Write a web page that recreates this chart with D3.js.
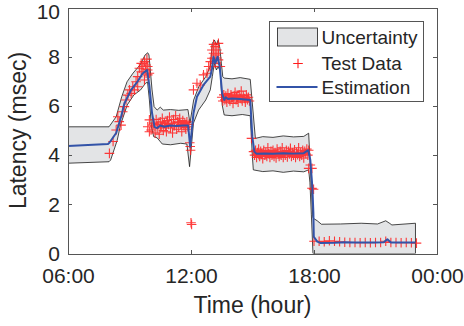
<!DOCTYPE html>
<html>
<head>
  <meta charset="utf-8" />
  <script src="https://d3js.org/d3.v7.min.js"></script>
  <style>
    * { margin: 0; padding: 0; }
    body { background: #fff; }
    svg { display: block; font-family: "Liberation Sans", Arial, sans-serif; }
    .axis text { fill: #262626; font-size: 21px; }
    .axis path, .axis line { stroke: #555; stroke-width: 1px; shape-rendering: crispEdges; }
  </style>
</head>
<body>
  <svg width="464" height="326"></svg>

  <script>
    // ---- data (hours, latency msec) ----
    const xTicks = [6, 12, 18, 24];
    const xTickLabels = ["06:00", "12:00", "18:00", "00:00"];
    const yTicks = [0, 2, 4, 6, 8, 10];

    // blue estimation curve
    const estimation = [
      [6.0, 4.37], [7.95, 4.45], [8.02, 4.5], [8.35, 4.9], [8.59, 5.56], [8.75, 6.1],
      [9.08, 6.65], [9.4, 7.0], [9.65, 7.33], [9.86, 7.46], [9.97, 6.8], [10.1, 5.7],
      [10.22, 5.15], [10.35, 5.1], [10.5, 5.2], [10.7, 5.15], [11.0, 5.2], [11.3, 5.18],
      [11.6, 5.2], [11.86, 5.2], [11.96, 4.34], [12.12, 5.7], [12.29, 6.37], [12.61, 6.85],
      [12.94, 7.19], [13.02, 7.5], [13.1, 8.0], [13.18, 7.73], [13.3, 8.0], [13.4, 7.6],
      [13.52, 6.5], [13.62, 6.24], [13.7, 6.35], [13.8, 6.28], [14.0, 6.3], [14.4, 6.28],
      [14.89, 6.24], [14.99, 4.75], [15.09, 4.14], [15.2, 4.05], [15.6, 4.07], [16.0, 4.05],
      [16.5, 4.08], [17.0, 4.06], [17.5, 4.08], [17.72, 4.2], [17.82, 3.8], [17.92, 2.7],
      [17.97, 1.65], [17.99, 0.68], [18.16, 0.48], [18.31, 0.43], [19.0, 0.44], [19.5, 0.46],
      [20.0, 0.45], [21.0, 0.45], [21.4, 0.46], [21.58, 0.58], [21.75, 0.45], [22.95, 0.45]
    ];

    // uncertainty band, upper edge
    const upperBound = [
      [6.0, 5.15], [8.0, 5.15], [8.35, 5.56], [8.62, 6.37], [8.88, 6.98], [9.17, 7.33],
      [9.51, 7.66], [9.76, 8.07], [9.89, 8.16], [9.95, 8.07], [10.0, 7.6], [10.1, 6.65],
      [10.2, 5.97], [10.35, 5.83], [10.5, 5.95], [10.65, 5.83], [11.0, 5.85], [11.4, 5.82],
      [11.85, 5.85], [11.95, 5.3], [12.13, 6.24], [12.38, 6.78], [12.72, 7.19], [12.94, 7.6],
      [13.04, 8.54], [13.14, 8.68], [13.24, 8.48], [13.33, 8.68], [13.41, 8.34], [13.48, 7.74],
      [13.55, 7.19], [13.62, 7.13], [14.0, 7.1], [14.4, 7.15], [14.89, 7.08], [15.14, 4.68],
      [15.5, 4.75], [16.0, 4.72], [16.5, 4.78], [17.0, 4.74], [17.5, 4.76], [17.74, 4.89],
      [17.8, 3.9], [17.87, 2.7], [17.94, 1.5], [17.97, 1.43], [18.16, 1.33], [18.36, 1.19],
      [19.3, 1.2], [20.3, 1.23], [21.1, 1.2], [21.5, 1.33], [21.7, 1.22], [21.8, 1.16],
      [22.95, 1.23]
    ];

    // uncertainty band, lower edge
    const lowerBound = [
      [6.0, 3.67], [8.0, 3.73], [8.08, 3.8], [8.4, 4.6], [8.56, 5.22], [8.89, 6.04],
      [9.21, 6.44], [9.54, 6.65], [9.78, 6.92], [9.88, 6.97], [9.97, 6.24], [10.07, 5.15],
      [10.18, 4.75], [10.35, 4.7], [10.6, 4.45], [11.0, 4.42], [11.5, 4.48], [11.8, 4.45],
      [11.93, 3.53], [12.12, 5.3], [12.37, 5.83], [12.72, 6.24], [12.94, 6.65], [13.04, 7.19],
      [13.14, 7.74], [13.24, 7.46], [13.33, 7.6], [13.43, 7.39], [13.52, 6.04], [13.62, 5.63],
      [14.0, 5.6], [14.5, 5.65], [14.89, 5.6], [14.99, 4.0], [15.04, 3.4], [15.5, 3.33],
      [16.0, 3.36], [16.5, 3.3], [17.0, 3.35], [17.5, 3.32], [17.74, 3.4], [17.8, 2.9],
      [17.87, 1.6], [17.95, 0], [22.95, 0]
    ];

    // red test measurements
    const testRise1 = [
      [8.02, 4.07], [8.2, 4.55], [8.35, 5.02], [8.43, 5.56], [8.5, 5.36], [8.59, 5.22],
      [8.67, 5.76], [8.75, 5.97], [8.83, 6.24], [8.92, 6.44], [9.0, 6.65], [9.08, 6.51],
      [9.16, 6.78], [9.24, 6.65], [9.32, 6.98], [9.4, 6.78], [9.4, 7.19], [9.48, 7.53],
      [9.57, 7.73], [9.57, 7.39], [9.65, 7.6], [9.73, 7.8], [9.73, 7.05], [9.81, 7.66],
      [9.81, 7.33], [9.89, 7.6], [9.89, 7.46], [9.89, 7.26], [9.97, 7.33], [9.85, 7.9],
      [9.78, 7.5], [9.97, 5.43], [9.89, 5.15], [10.05, 5.02], [10.14, 5.22], [9.97, 4.95]
    ];
    const testMorning = [
      [10.2, 5.3], [10.25, 4.9], [10.3, 5.45], [10.35, 5.1], [10.4, 5.25], [10.45, 4.85],
      [10.5, 5.35], [10.55, 5.15], [10.6, 5.5], [10.65, 5.0], [10.7, 5.3], [10.75, 5.2],
      [10.8, 4.95], [10.85, 5.4], [10.9, 5.25], [10.95, 5.55], [11.0, 5.1], [11.05, 5.3],
      [11.1, 4.9], [11.15, 5.45], [11.2, 5.2], [11.25, 5.6], [11.3, 5.05], [11.35, 5.35],
      [11.4, 5.15], [11.45, 5.5], [11.5, 5.25], [11.55, 4.95], [11.6, 5.4], [11.65, 5.2],
      [11.7, 5.3], [11.75, 5.05], [11.8, 5.35], [11.85, 5.15], [11.9, 5.25], [10.52, 5.1],
      [10.82, 5.28], [11.12, 5.18], [11.42, 5.32], [11.72, 5.12],
      [11.96, 4.35], [11.98, 4.2], [11.94, 4.5], [12.0, 1.25], [12.03, 1.18]
    ];
    const testRise2 = [
      [12.12, 6.65], [12.29, 6.92], [12.45, 6.85], [12.61, 7.26], [12.78, 7.33], [12.86, 7.6],
      [12.94, 7.8], [12.94, 7.6], [13.02, 8.27], [13.02, 7.94], [13.1, 8.14], [13.18, 8.41],
      [13.18, 8.07], [13.18, 7.73], [13.26, 8.27], [13.34, 8.14], [13.34, 7.87], [13.34, 8.54],
      [13.43, 7.6], [13.1, 8.5], [13.26, 7.95]
    ];
    const testMidday = [
      [13.5, 6.35], [13.55, 6.2], [13.6, 6.45], [13.65, 6.25], [13.7, 6.4], [13.75, 6.15],
      [13.8, 6.5], [13.85, 6.3], [13.9, 6.2], [13.95, 6.45], [14.0, 6.35], [14.05, 6.1],
      [14.1, 6.4], [14.15, 6.55], [14.2, 6.25], [14.25, 6.35], [14.3, 6.15], [14.35, 6.45],
      [14.4, 6.3], [14.45, 6.6], [14.5, 6.2], [14.55, 6.4], [14.6, 6.3], [14.65, 6.15],
      [14.7, 6.45], [14.75, 6.25], [14.8, 6.35], [14.85, 6.2], [13.72, 6.28], [13.98, 6.32],
      [14.22, 6.38], [14.48, 6.28], [14.72, 6.32], [14.95, 4.68], [15.05, 4.14]
    ];
    const testAfternoon = [
      [15.1, 4.0], [15.15, 4.2], [15.2, 3.9], [15.25, 4.1], [15.3, 4.25], [15.35, 3.95],
      [15.4, 4.15], [15.45, 4.05], [15.5, 3.85], [15.55, 4.2], [15.6, 4.0], [15.65, 4.1],
      [15.7, 3.95], [15.75, 4.3], [15.8, 4.05], [15.85, 3.9], [15.9, 4.15], [15.95, 4.0],
      [16.0, 4.2], [16.05, 3.95], [16.1, 4.1], [16.15, 3.88], [16.2, 4.25], [16.25, 4.05],
      [16.3, 3.95], [16.35, 4.15], [16.4, 4.0], [16.45, 4.3], [16.5, 3.9], [16.55, 4.1],
      [16.6, 4.0], [16.65, 4.2], [16.7, 3.92], [16.75, 4.15], [16.8, 4.05], [16.85, 4.28],
      [16.9, 3.95], [16.95, 4.1], [17.0, 4.0], [17.05, 4.22], [17.1, 3.9], [17.15, 4.12],
      [17.2, 4.02], [17.25, 4.3], [17.3, 3.95], [17.35, 4.1], [17.4, 4.0], [17.45, 4.2],
      [17.5, 3.88], [17.55, 4.15], [17.6, 4.05], [17.65, 4.25], [17.7, 4.0],
      [17.74, 4.2], [17.82, 3.6], [17.9, 3.46], [17.74, 3.46], [17.9, 2.65], [17.98, 2.61]
    ];
    const testEvening = [
      [18.0, 0.5], [18.25, 0.5], [18.5, 0.48], [18.75, 0.52], [19.0, 0.5], [19.25, 0.48],
      [19.5, 0.46], [19.75, 0.45], [20.0, 0.45], [20.25, 0.44], [20.5, 0.45], [20.75, 0.44],
      [21.0, 0.45], [21.25, 0.45], [21.5, 0.5], [21.75, 0.45], [22.0, 0.45], [22.25, 0.44],
      [22.5, 0.45], [22.75, 0.44], [23.0, 0.42]
    ];
    const testData = [].concat(testRise1, testMorning, testRise2, testMidday, testAfternoon, testEvening);

    const legendLabels = ["Uncertainty", "Test Data", "Estimation"];

    // ---- layout ----
    const svg = d3.select("svg");
    const plotLeft = 68, plotRight = 437, plotTop = 7.5, plotBottom = 253.5;

    const x = d3.scaleLinear().domain([6, 24]).range([plotLeft, plotRight]);
    const y = d3.scaleLinear().domain([0, 10]).range([plotBottom, plotTop]);

    svg.append("clipPath").attr("id", "plotclip")
      .append("rect").attr("x", plotLeft).attr("y", plotTop)
      .attr("width", plotRight - plotLeft).attr("height", plotBottom - plotTop);

    const plot = svg.append("g").attr("clip-path", "url(#plotclip)");

    // band polygon: upper edge forward, lower edge backward
    const bandPts = upperBound.concat(lowerBound.slice().reverse());
    plot.append("path")
      .datum(bandPts)
      .attr("d", d3.line().x(d => x(d[0])).y(d => y(d[1])).curve(d3.curveLinearClosed))
      .attr("fill", "#e3e4e6")
      .attr("stroke", "#1a1a1a")
      .attr("stroke-width", 0.8);

    // red plus markers
    const plus = (cx, cy, r) => `M${cx - r},${cy}H${cx + r}M${cx},${cy - r}V${cy + r}`;
    plot.append("path")
      .attr("d", testData.map(d => plus(x(d[0]), y(d[1]), 4.8)).join(""))
      .attr("fill", "none")
      .attr("stroke", "#ff1a1a")
      .attr("stroke-opacity", 0.85)
      .attr("stroke-width", 1.1);

    // estimation line
    plot.append("path")
      .datum(estimation)
      .attr("d", d3.line().x(d => x(d[0])).y(d => y(d[1])))
      .attr("fill", "none")
      .attr("stroke", "#3353a8")
      .attr("stroke-width", 2)
      .attr("stroke-linejoin", "round");

    // ---- axes (ticks inward, box on) ----
    svg.append("g").attr("class", "axis")
      .attr("transform", `translate(0,${plotBottom})`)
      .call(d3.axisBottom(x).tickValues(xTicks).tickFormat((d, i) => xTickLabels[i])
        .tickSizeInner(-4).tickSizeOuter(0).tickPadding(14.3));

    const yAxisG = svg.append("g").attr("class", "axis")
      .attr("transform", `translate(${plotLeft},0)`)
      .call(d3.axisLeft(y).tickValues(yTicks).tickSizeInner(-4).tickSizeOuter(0).tickPadding(8));
    // top label kept inside the figure, as in the original
    yAxisG.selectAll(".tick text").filter(d => d === 10).attr("dy", "0.5em");

    svg.append("g").attr("class", "axis")
      .attr("transform", `translate(0,${plotTop})`)
      .call(d3.axisTop(x).tickValues(xTicks).tickFormat("").tickSizeInner(-4).tickSizeOuter(0));

    svg.append("g").attr("class", "axis")
      .attr("transform", `translate(${plotRight},0)`)
      .call(d3.axisRight(y).tickValues(yTicks).tickFormat("").tickSizeInner(-4).tickSizeOuter(0));

    // axis labels
    svg.append("text")
      .attr("x", (plotLeft + plotRight) / 2).attr("y", 313)
      .attr("text-anchor", "middle")
      .attr("fill", "#262626").style("font-size", "23px")
      .text("Time (hour)");

    svg.append("text")
      .attr("transform", `translate(26,${(plotTop + plotBottom) / 2}) rotate(-90)`)
      .attr("text-anchor", "middle")
      .attr("fill", "#262626").style("font-size", "23px")
      .text("Latency (msec)");

    // ---- legend ----
    const lg = svg.append("g").attr("transform", "translate(269.5,21.5)");
    lg.append("rect")
      .attr("width", 154).attr("height", 80)
      .attr("fill", "#fff").attr("stroke", "#555").attr("stroke-width", 1);

    const rowY = [15.5, 42, 65.5];
    lg.append("rect")
      .attr("x", 8).attr("y", rowY[0] - 9).attr("width", 40).attr("height", 18)
      .attr("fill", "#e3e4e6").attr("stroke", "#1a1a1a").attr("stroke-width", 0.8);
    lg.append("path")
      .attr("d", plus(28.5, rowY[1], 4.8))
      .attr("stroke", "#ff1a1a").attr("stroke-width", 1.1);
    lg.append("line")
      .attr("x1", 7).attr("x2", 48).attr("y1", rowY[2]).attr("y2", rowY[2])
      .attr("stroke", "#3353a8").attr("stroke-width", 2);

    lg.selectAll("text.lab").data(legendLabels).join("text")
      .attr("class", "lab")
      .attr("x", 52).attr("y", (d, i) => rowY[i])
      .attr("dy", "0.36em")
      .attr("fill", "#262626").style("font-size", "19px")
      .text(d => d);
  </script>
</body>
</html>
